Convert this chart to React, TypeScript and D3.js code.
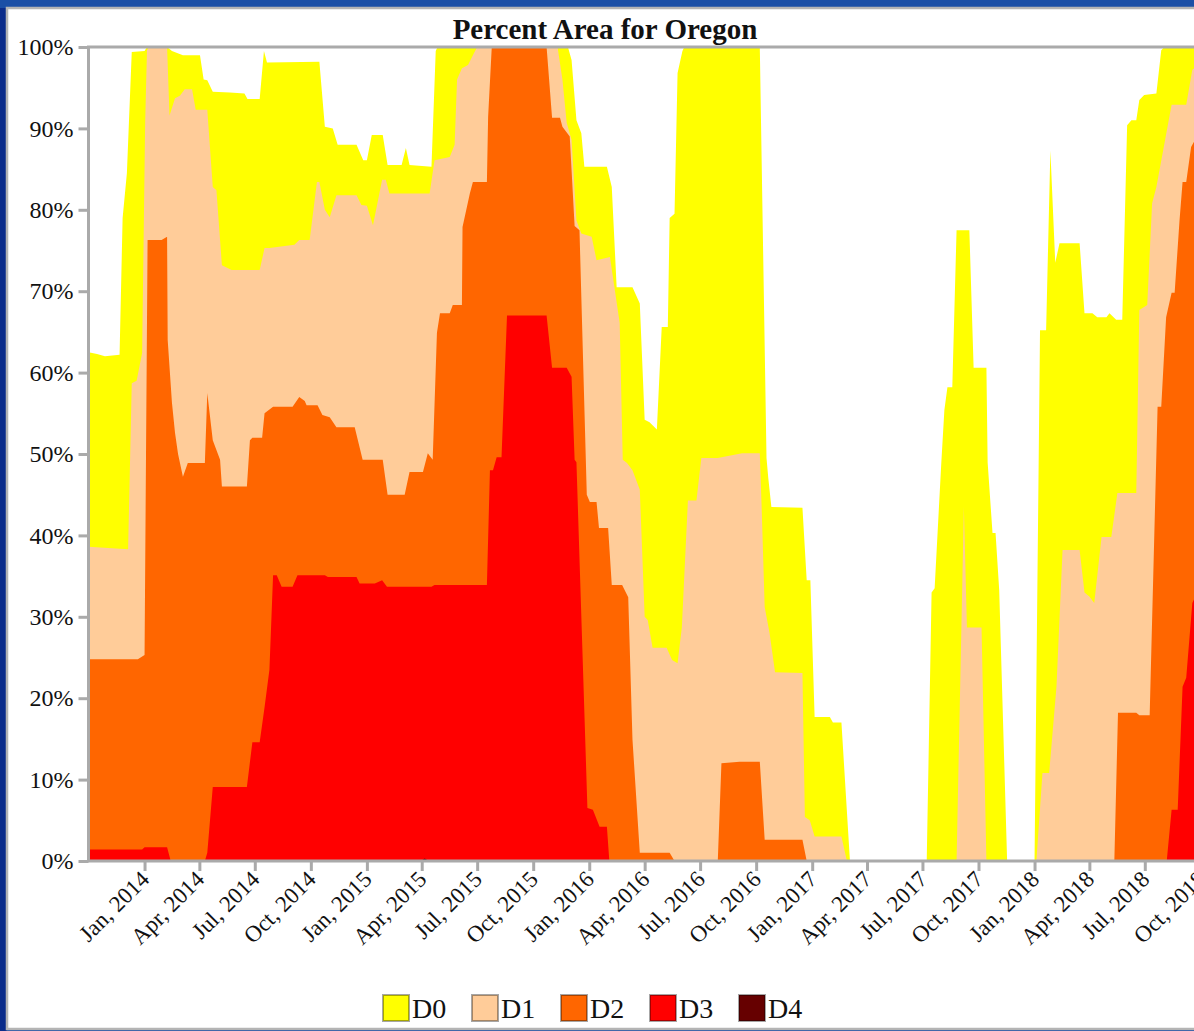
import React, { useEffect, useRef } from 'react';
import * as d3 from 'd3';

const width = 1194,
      height = 1031;

const margin = { left: 88.5, top: 47, bottom: 861, right: 1238 };

const levels = ['D0', 'D1', 'D2', 'D3', 'D4'];
const levelColors = ['#ffff00', '#ffcc99', '#ff6600', '#ff0000', '#660000'];

const yTicks = [0, 10, 20, 30, 40, 50, 60, 70, 80, 90, 100];
const xTicks = [
    '2014-01-01', '2014-04-01', '2014-07-01', '2014-10-01',
    '2015-01-01', '2015-04-01', '2015-07-01', '2015-10-01',
    '2016-01-01', '2016-04-01', '2016-07-01', '2016-10-01',
    '2017-01-01', '2017-04-01', '2017-07-01', '2017-10-01',
    '2018-01-01', '2018-04-01', '2018-07-01', '2018-10-01',
];
const xDomain = ['2013-10-01', '2018-12-01'];

// percent of state area in each category or worse
const d0Points: [string, number][] = [
    ['2013-10-01', 62.5], ['2013-10-15', 62.3], ['2013-10-28', 62.0], ['2013-11-21', 62.2], ['2013-11-26', 79],
    ['2013-12-03', 84.5], ['2013-12-11', 99.4], ['2014-01-01', 99.5], ['2014-01-05', 100], ['2014-02-07', 100],
    ['2014-02-15', 99.5], ['2014-03-05', 99], ['2014-04-02', 99], ['2014-04-08', 96], ['2014-04-14', 95.9],
    ['2014-04-23', 94.5], ['2014-05-21', 94.4], ['2014-06-14', 94.3], ['2014-06-19', 93.6], ['2014-07-09', 93.6],
    ['2014-07-16', 99.5], ['2014-07-21', 98.1], ['2014-10-15', 98.2], ['2014-10-24', 90.2], ['2014-11-06', 90],
    ['2014-11-14', 88], ['2014-12-15', 88], ['2014-12-26', 86.1], ['2015-01-01', 86.1], ['2015-01-09', 89.2],
    ['2015-01-27', 89.2], ['2015-02-04', 85.5], ['2015-02-27', 85.5], ['2015-03-06', 87.6], ['2015-03-12', 85.5],
    ['2015-04-17', 85.3], ['2015-04-24', 99.5], ['2015-04-27', 100], ['2015-11-27', 100], ['2015-12-03', 98.4],
    ['2015-12-11', 91], ['2015-12-19', 89.4], ['2015-12-24', 85.3], ['2016-01-30', 85.3], ['2016-02-07', 82.8],
    ['2016-02-15', 70.5], ['2016-03-12', 70.5], ['2016-03-24', 68.5], ['2016-04-01', 54.2], ['2016-04-09', 53.9],
    ['2016-04-21', 53], ['2016-04-29', 65.6], ['2016-05-09', 65.6], ['2016-05-12', 79], ['2016-05-20', 79.5],
    ['2016-05-25', 96.8], ['2016-06-02', 99.5], ['2016-06-05', 100], ['2016-10-07', 100], ['2016-10-18', 49.5],
    ['2016-10-21', 47], ['2016-10-26', 43.5], ['2016-12-16', 43.4], ['2016-12-23', 34.5], ['2016-12-29', 34.5],
    ['2017-01-05', 17.7], ['2017-01-30', 17.7], ['2017-02-04', 17], ['2017-02-18', 17], ['2017-03-04', 0],
    ['2017-07-08', 0], ['2017-07-16', 33], ['2017-07-21', 33.5], ['2017-08-01', 49], ['2017-08-06', 55.4],
    ['2017-08-11', 58.2], ['2017-08-19', 58.2], ['2017-08-26', 77.5], ['2017-09-16', 77.5], ['2017-09-23', 60.6],
    ['2017-10-14', 60.6], ['2017-10-16', 49], ['2017-10-24', 40.3], ['2017-10-29', 40.3], ['2017-11-04', 33.3],
    ['2017-11-17', 0], ['2018-01-01', 0], ['2018-01-10', 65.2], ['2018-01-20', 65.2], ['2018-01-27', 87.3],
    ['2018-02-04', 73.5], ['2018-02-11', 75.9], ['2018-03-16', 75.9], ['2018-03-24', 67.3], ['2018-04-06', 67.3],
    ['2018-04-14', 66.8], ['2018-04-29', 66.8], ['2018-05-04', 67.3], ['2018-05-15', 66.5], ['2018-05-25', 66.5],
    ['2018-06-02', 90.4], ['2018-06-09', 91], ['2018-06-17', 91], ['2018-06-22', 93.5], ['2018-06-30', 94.1],
    ['2018-07-20', 94.3], ['2018-07-28', 99.6], ['2018-08-02', 100], ['2018-10-16', 100],
];

const d1Points: [string, number][] = [
    ['2013-10-01', 38.6], ['2013-12-05', 38.3], ['2013-12-11', 58.7], ['2013-12-19', 59], ['2013-12-28', 62.4],
    ['2014-01-02', 90.7], ['2014-01-05', 99.6], ['2014-01-08', 100], ['2014-02-07', 100], ['2014-02-11', 91.6],
    ['2014-02-20', 93.7], ['2014-02-28', 94], ['2014-03-08', 94.8], ['2014-03-20', 94.8], ['2014-03-26', 92.3],
    ['2014-04-14', 92.3], ['2014-04-23', 82.8], ['2014-04-29', 82.4], ['2014-05-08', 73.2], ['2014-05-24', 72.6],
    ['2014-07-09', 72.6], ['2014-07-17', 75.3], ['2014-07-25', 75.3], ['2014-09-04', 75.7], ['2014-09-12', 76.3],
    ['2014-09-29', 76.3], ['2014-10-11', 83.4], ['2014-10-15', 83.4], ['2014-10-24', 80], ['2014-11-01', 79.1],
    ['2014-11-12', 81.8], ['2014-12-15', 81.8], ['2014-12-23', 80.6], ['2015-01-01', 80.5], ['2015-01-11', 78.1],
    ['2015-01-26', 83.7], ['2015-02-01', 83.7], ['2015-02-07', 82], ['2015-04-14', 82], ['2015-04-22', 86.1],
    ['2015-05-17', 86.5], ['2015-05-25', 88], ['2015-05-29', 96], ['2015-06-06', 97.4], ['2015-06-16', 97.8],
    ['2015-06-24', 99], ['2015-07-01', 100], ['2015-11-10', 100], ['2015-11-18', 96], ['2015-11-25', 90.7],
    ['2015-12-03', 88.6], ['2015-12-11', 78.7], ['2015-12-19', 77.1], ['2016-01-05', 76.7], ['2016-01-13', 73.8],
    ['2016-02-04', 74.2], ['2016-02-20', 66.1], ['2016-02-25', 49.3], ['2016-03-03', 48.9], ['2016-03-12', 48],
    ['2016-03-24', 45.6], ['2016-04-01', 30], ['2016-04-06', 29.6], ['2016-04-14', 26.2], ['2016-05-07', 26.2],
    ['2016-05-16', 24.7], ['2016-05-25', 24.3], ['2016-06-01', 28.7], ['2016-06-11', 44.3], ['2016-06-25', 44.3],
    ['2016-07-03', 49.5], ['2016-07-30', 49.5], ['2016-09-08', 50.1], ['2016-10-07', 50.1], ['2016-10-10', 43.5],
    ['2016-10-15', 31.2], ['2016-10-23', 28], ['2016-11-01', 23.2], ['2016-12-16', 23.1], ['2016-12-20', 5.4],
    ['2016-12-28', 5], ['2017-01-05', 3], ['2017-02-18', 3], ['2017-02-27', 0], ['2017-08-26', 0],
    ['2017-09-07', 43.5], ['2017-09-12', 28.7], ['2017-10-06', 28.7], ['2017-10-14', 0], ['2018-01-04', 0],
    ['2018-01-14', 10.8], ['2018-01-25', 10.8], ['2018-02-06', 21.4], ['2018-02-16', 38.2], ['2018-03-16', 38.2],
    ['2018-03-24', 33], ['2018-04-01', 32.5], ['2018-04-09', 31.7], ['2018-04-21', 39.8], ['2018-05-07', 39.8],
    ['2018-05-17', 45.2], ['2018-06-17', 45.2], ['2018-06-22', 67.7], ['2018-07-05', 68.3], ['2018-07-13', 80.8],
    ['2018-07-20', 82.8], ['2018-08-14', 92.9], ['2018-09-07', 92.9], ['2018-09-17', 97.2], ['2018-10-16', 99],
];

const d2Points: [string, number][] = [
    ['2013-10-01', 24.8], ['2013-12-21', 24.8], ['2014-01-01', 25.3], ['2014-01-06', 76.3], ['2014-01-29', 76.3],
    ['2014-02-07', 76.7], ['2014-02-08', 64], ['2014-02-15', 56.3], ['2014-02-20', 52.6], ['2014-02-25', 50],
    ['2014-03-05', 47.2], ['2014-03-13', 48.9], ['2014-04-10', 48.9], ['2014-04-14', 57.5], ['2014-04-23', 51.7],
    ['2014-05-05', 49.3], ['2014-05-08', 46], ['2014-06-18', 46], ['2014-06-23', 51.7], ['2014-06-27', 52],
    ['2014-07-13', 52], ['2014-07-17', 55], ['2014-07-31', 55.8], ['2014-09-01', 55.8], ['2014-09-12', 57],
    ['2014-09-21', 56.5], ['2014-09-24', 56], ['2014-10-12', 56], ['2014-10-20', 54.8], ['2014-11-01', 54.5],
    ['2014-11-12', 53.3], ['2014-12-12', 53.3], ['2014-12-25', 49.3], ['2015-01-27', 49.3], ['2015-02-04', 45],
    ['2015-03-04', 45], ['2015-03-12', 47.8], ['2015-04-03', 47.8], ['2015-04-11', 50.1], ['2015-04-19', 49.3],
    ['2015-04-26', 64.9], ['2015-05-01', 67.3], ['2015-05-17', 67.3], ['2015-05-22', 68.3], ['2015-06-06', 68.3],
    ['2015-06-07', 77.9], ['2015-06-19', 82], ['2015-06-24', 83.4], ['2015-07-17', 83.4], ['2015-07-19', 91.4],
    ['2015-07-25', 100], ['2015-10-23', 100], ['2015-11-01', 91.3], ['2015-11-14', 91.3], ['2015-11-18', 90.2],
    ['2015-11-30', 89], ['2015-12-08', 78], ['2015-12-16', 77.5], ['2015-12-28', 45], ['2016-01-02', 44.1],
    ['2016-01-13', 44.1], ['2016-01-17', 40.9], ['2016-02-01', 40.9], ['2016-02-07', 33.9], ['2016-02-24', 33.9],
    ['2016-03-05', 32.4], ['2016-03-12', 14.9], ['2016-03-24', 1], ['2016-05-12', 1], ['2016-05-20', 0],
    ['2016-07-30', 0], ['2016-08-05', 12], ['2016-09-04', 12.2], ['2016-10-07', 12.2], ['2016-10-15', 2.6],
    ['2016-12-16', 2.6], ['2016-12-23', 0], ['2018-05-12', 0], ['2018-05-18', 18.2], ['2018-06-17', 18.2],
    ['2018-06-22', 17.9], ['2018-07-09', 17.9], ['2018-07-22', 55.8], ['2018-07-28', 55.8], ['2018-08-05', 66.8],
    ['2018-08-14', 69.8], ['2018-08-19', 69.8], ['2018-08-27', 78.7], ['2018-09-01', 83.4], ['2018-09-07', 83.4],
    ['2018-09-15', 87.7], ['2018-10-16', 92],
];

const d3Points: [string, number][] = [
    ['2013-10-01', 1.4], ['2013-12-28', 1.4], ['2014-01-01', 1.7], ['2014-02-07', 1.7], ['2014-02-13', 0],
    ['2014-04-10', 0], ['2014-04-14', 1], ['2014-04-23', 9.1], ['2014-06-18', 9.1], ['2014-06-27', 14.6],
    ['2014-07-09', 14.6], ['2014-07-17', 18.9], ['2014-07-25', 23.5], ['2014-07-31', 35.1], ['2014-08-06', 35.1],
    ['2014-08-14', 33.7], ['2014-09-01', 33.7], ['2014-09-09', 35.1], ['2014-10-24', 35.1], ['2014-10-29', 34.9],
    ['2014-12-15', 34.9], ['2014-12-20', 34.1], ['2015-01-14', 34.1], ['2015-01-26', 34.5], ['2015-02-03', 33.7],
    ['2015-04-17', 33.7], ['2015-04-22', 33.9], ['2015-07-17', 33.9], ['2015-07-22', 48], ['2015-07-27', 48],
    ['2015-08-02', 49.6], ['2015-08-10', 49.6], ['2015-08-19', 67], ['2015-10-23', 67], ['2015-11-01', 60.6],
    ['2015-11-25', 60.6], ['2015-12-03', 59.5], ['2015-12-08', 49.3], ['2015-12-11', 49], ['2015-12-29', 6.5],
    ['2016-01-07', 6.3], ['2016-01-18', 4.2], ['2016-01-30', 4.2], ['2016-02-03', 0], ['2018-08-06', 0],
    ['2018-08-14', 6.3], ['2018-08-24', 6.3], ['2018-09-01', 21.4], ['2018-09-07', 22.5], ['2018-09-17', 31.7],
    ['2018-10-16', 36],
];

const d4Points: [string, number][] = [
    ['2013-10-01', 0], ['2015-03-30', 0], ['2015-04-06', 0.3], ['2015-04-13', 0], ['2018-10-16', 0],
];

const seriesPoints = [d0Points, d1Points, d2Points, d3Points, d4Points];

const fontFamily = '"Liberation Serif", "Times New Roman", serif';

const App = () => {
    const svgRef = useRef<SVGSVGElement>(null);

    useEffect(() => {
        renderGraph();
    }, []);

    const renderGraph = () => {
        const parse = d3.timeParse('%Y-%m-%d');
        const svg = d3.select(svgRef.current);
        svg.html('');

        // window frame
        svg.append('rect').attr('width', width).attr('height', height).attr('fill', '#1b4fa6');
        svg.append('rect').attr('x', 0).attr('y', 8).attr('width', 7).attr('height', height).attr('fill', '#0b2c8a');
        svg.append('rect').attr('x', 7).attr('y', 8).attr('width', width).attr('height', 1021)
            .attr('fill', '#fff').attr('stroke', '#b4b4b4').attr('stroke-width', 2.5);

        const x = d3.scaleTime()
            .domain(xDomain.map(d => parse(d) as Date))
            .range([margin.left, margin.right]);
        const y = d3.scaleLinear().domain([0, 100]).range([margin.bottom, margin.top]);

        svg.append('defs').append('clipPath').attr('id', 'plotClip')
            .append('rect')
            .attr('x', margin.left).attr('y', margin.top)
            .attr('width', margin.right - margin.left).attr('height', margin.bottom - margin.top);

        const area = d3.area<[string, number]>()
            .x(d => x(parse(d[0]) as Date))
            .y0(y(0))
            .y1(d => y(d[1]));

        const plot = svg.append('g').attr('clip-path', 'url(#plotClip)');
        seriesPoints.forEach((pts, i) => {
            plot.append('path')
                .attr('d', area(pts))
                .attr('fill', levelColors[i]);
        });

        // plot border
        svg.append('rect')
            .attr('x', margin.left).attr('y', margin.top)
            .attr('width', margin.right - margin.left).attr('height', margin.bottom - margin.top)
            .attr('fill', 'none').attr('stroke', '#aaa').attr('stroke-width', 3);

        const yAxis = svg.append('g')
            .attr('transform', `translate(${margin.left},0)`)
            .call(d3.axisLeft(y).tickValues(yTicks).tickSize(10).tickPadding(5).tickFormat(d => `${d}%`));
        yAxis.select('.domain').remove();
        yAxis.selectAll('.tick line').attr('stroke', '#aaa').attr('stroke-width', 3);
        yAxis.selectAll('.tick text')
            .attr('font-family', fontFamily).attr('font-size', 24).attr('fill', '#111');

        const xAxis = svg.append('g')
            .attr('transform', `translate(0,${margin.bottom})`)
            .call(d3.axisBottom(x)
                .tickValues(xTicks.map(d => parse(d) as Date))
                .tickSize(10)
                .tickFormat(d => d3.timeFormat('%b, %Y')(d as Date)));
        xAxis.select('.domain').remove();
        xAxis.selectAll('.tick line').attr('stroke', '#aaa').attr('stroke-width', 3);
        xAxis.selectAll('.tick text')
            .attr('font-family', fontFamily).attr('font-size', 23).attr('fill', '#111')
            .attr('text-anchor', 'end')
            .attr('transform', 'translate(0,14) rotate(-45)')
            .attr('dy', '0.35em').attr('y', 0);

        svg.append('text')
            .attr('x', 605).attr('y', 39)
            .attr('text-anchor', 'middle')
            .attr('font-family', fontFamily).attr('font-weight', 'bold').attr('font-size', 29)
            .attr('fill', '#111')
            .text('Percent Area for Oregon');

        const legend = svg.append('g').attr('transform', 'translate(383,995)');
        const item = legend.selectAll('g').data(levels).enter().append('g')
            .attr('transform', (d, i) => `translate(${i * 89},0)`);
        item.append('rect')
            .attr('width', 26).attr('height', 26)
            .attr('fill', (d, i) => levelColors[i])
            .attr('stroke', 'rgba(0,0,0,0.35)').attr('stroke-width', 2);
        item.append('text')
            .attr('x', 29).attr('y', 23)
            .attr('font-family', fontFamily).attr('font-size', 28).attr('fill', '#111')
            .text(d => d);
    };

    return (
        <svg
            ref={svgRef}
            width={width}
            height={height}
            style={{ position: 'absolute', left: 0, top: 0, display: 'block' }}>
        </svg>
    );
};

export default App;
